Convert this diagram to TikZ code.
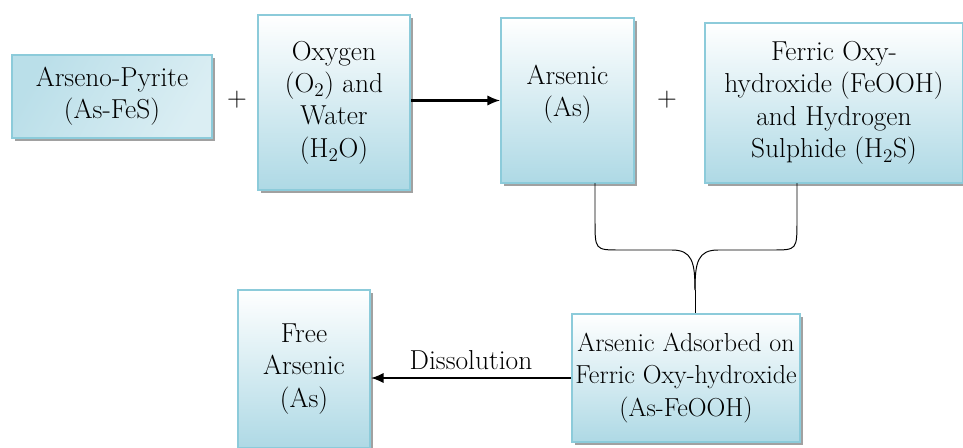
\documentclass[tikz,border=0pt]{standalone}
\usepackage{tikz}
\usetikzlibrary{arrows.meta,positioning,shadows}
\definecolor{cBox}{HTML}{AED9E5}
\definecolor{cEdge}{HTML}{8CCBDA}
\definecolor{cShade}{HTML}{8A8A8A}
\tikzset{
  box/.style={draw=cEdge, line width=1.2pt, top color=white, bottom color=cBox,
    align=center, inner sep=2pt, font=\rmfamily\fontsize{19.5}{23}\selectfont,
    drop shadow={shadow xshift=2pt, shadow yshift=-2pt, fill=cShade, opacity=0.8}},
  arrow/.style={-{Latex[length=3.2mm,width=2.6mm]}, line width=1.5pt},
  brace/.style={draw=black, line width=0.7pt},
  plus/.style={font=\rmfamily\fontsize{19.5}{23}\selectfont},
}
\begin{document}
\begin{tikzpicture}[x=0.025cm,y=-0.025cm]
        \useasboundingbox (0,0) rectangle (963,448);
        \node[box, minimum width=200*0.025cm, minimum height=83*0.025cm,
              top color=cBox!85, bottom color=cBox!45, shading angle=60] (ap) at (112,96.5)
              {Arseno-Pyrite\\(As-FeS)};
        \node[box, minimum width=152*0.025cm, minimum height=175*0.025cm] (ow) at (334,102.5)
              {Oxygen\\(O\textsubscript{2}) and\\Water\\(H\textsubscript{2}O)};
        \node[box, minimum width=133*0.025cm, minimum height=165*0.025cm, text depth=14pt] (as) at (567.5,100.5)
              {Arsenic\\(As)};
        \node[box, minimum width=258*0.025cm, minimum height=160*0.025cm] (fo) at (834,103)
              {Ferric Oxy-\\hydroxide (FeOOH)\\and Hydrogen\\Sulphide (H\textsubscript{2}S)};
        \node[box, minimum width=132*0.025cm, minimum height=158*0.025cm] (fa) at (304,369)
              {Free\\Arsenic\\(As)};
        \node[box, minimum width=228*0.025cm, minimum height=128*0.025cm, inner xsep=0pt,
              font=\rmfamily\fontsize{18.5}{23}\selectfont] (ad) at (686,378)
              {Arsenic Adsorbed on\\Ferric Oxy-hydroxide\\(As-FeOOH)};
        \node[plus] (p1) at (237,100) {+};
        \node[plus] (p2) at (667,100) {+};
        \draw[arrow] (ow.east |- as.west) -- (as.west);
        \draw[arrow] (ad.west) -- node[above=2pt, font=\rmfamily\fontsize{19.5}{23}\selectfont] (dis) {Dissolution} (ad.west -| fa.east);
        \coordinate (legl) at (595,183);
        \coordinate (legr) at (797,183);
        \coordinate (tip) at (695,290);
        \draw[brace] (legl) -- (595,220) .. controls (595,250) and (595,250) .. (620,250)
              -- (672,250) .. controls (692,250) and (695,262) .. (tip);
        \draw[brace] (legr) -- (797,220) .. controls (797,250) and (797,250) .. (772,250)
              -- (718,250) .. controls (698,250) and (695,262) .. (tip);
        \draw[brace] (tip) -- (tip |- ad.north);
      \end{tikzpicture}
\end{document}
